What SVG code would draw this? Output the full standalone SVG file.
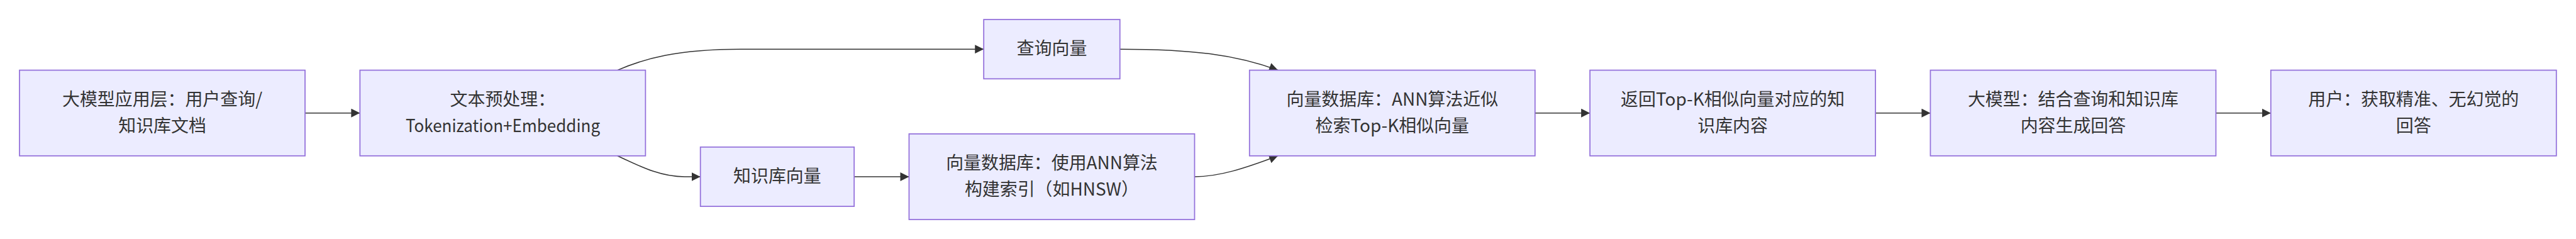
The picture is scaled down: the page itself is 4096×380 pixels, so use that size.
<svg xmlns="http://www.w3.org/2000/svg" width="4096" height="380" viewBox="0 0 4096 380">
<style>
.node rect{fill:#ECECFF;stroke:#9370DB;stroke-width:3}
.node text{font-family:"Noto Sans CJK SC","Noto Sans",sans-serif;font-size:48px;fill:#333333;text-anchor:middle}
.edge{fill:none;stroke:#333333;stroke-width:2.6;marker-end:url(#arrow)}
</style>
<defs>
<marker id="arrow" viewBox="0 0 10 10" refX="10" refY="5" markerWidth="24" markerHeight="24" markerUnits="userSpaceOnUse" orient="auto">
<path d="M0,0 L10,5 L0,10 z" fill="#333333"/>
</marker>
</defs>
<rect width="4096" height="380" fill="#ffffff"/>
<g transform="scale(0.58207)">
<g id="connectors">
<path class="edge" d="M833.3,308.7 L983.3,308.7"/>
<path class="edge" d="M1686.7,191.7 C1760,160 1850,134.3 2024,134.3 L2687.3,134.3"/>
<path class="edge" d="M1686.7,425.7 C1740,450 1800,482.7 1870,482.7 L1913.3,482.7"/>
<path class="edge" d="M2333.3,482.7 L2483.3,482.7"/>
<path class="edge" d="M3059.3,134.3 C3255,134.3 3375,149 3491,191.7"/>
<path class="edge" d="M3263.3,482.7 C3330,482.7 3400,460 3491,425.7"/>
<path class="edge" d="M4193.3,308.7 L4343.3,308.7"/>
<path class="edge" d="M5123.3,308.7 L5273.3,308.7"/>
<path class="edge" d="M6053.3,308.7 L6203.3,308.7"/>
</g>
<g id="nodeA" class="node">
<rect x="53.3" y="191.7" width="780" height="234"/>
<text x="443.3" y="288">大模型应用层：用户查询/</text>
<text x="443.3" y="360">知识库文档</text>
</g>
<g id="nodeB" class="node">
<rect x="983.3" y="191.7" width="780" height="234"/>
<text x="1373.3" y="288">文本预处理：</text>
<text x="1373.6" y="360" textLength="531" lengthAdjust="spacingAndGlyphs">Tokenization+Embedding</text>
</g>
<g id="nodeQ" class="node">
<rect x="2687.3" y="53.3" width="372" height="162"/>
<text x="2873.3" y="149.5">查询向量</text>
</g>
<g id="nodeK" class="node">
<rect x="1913.3" y="401.7" width="420" height="162"/>
<text x="2123.3" y="497.9">知识库向量</text>
</g>
<g id="nodeV" class="node">
<rect x="2483.3" y="365.7" width="780" height="234"/>
<text x="2873.3" y="462">向量数据库：使用ANN算法</text>
<text x="2873.3" y="534">构建索引（如HNSW）</text>
</g>
<g id="nodeE" class="node">
<rect x="3413.3" y="191.7" width="780" height="234"/>
<text x="3803.3" y="288">向量数据库：ANN算法近似</text>
<text x="3803.3" y="360">检索Top-K相似向量</text>
</g>
<g id="nodeF" class="node">
<rect x="4343.3" y="191.7" width="780" height="234"/>
<text x="4733.3" y="288">返回Top-K相似向量对应的知</text>
<text x="4733.3" y="360">识库内容</text>
</g>
<g id="nodeG" class="node">
<rect x="5273.3" y="191.7" width="780" height="234"/>
<text x="5663.3" y="288">大模型：结合查询和知识库</text>
<text x="5663.3" y="360">内容生成回答</text>
</g>
<g id="nodeH" class="node">
<rect x="6203.3" y="191.7" width="780" height="234"/>
<text x="6593.3" y="288">用户：获取精准、无幻觉的</text>
<text x="6593.3" y="360">回答</text>
</g>
</g>
</svg>
